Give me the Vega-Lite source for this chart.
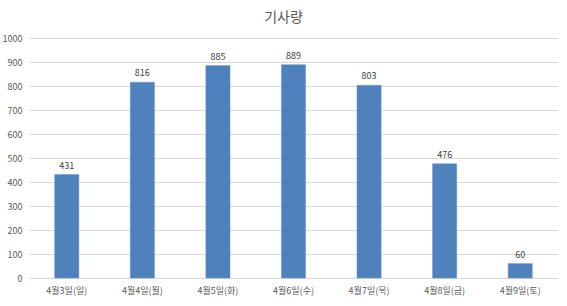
{
  "$schema": "https://vega.github.io/schema/vega-lite/v6.json",
  "width": 529,
  "height": 240,
  "autosize": {"type": "none"},
  "padding": {"left": 29, "top": 38, "right": 9, "bottom": 28},
  "background": "white",
  "title": {
    "text": "기사량",
    "font": "Noto Sans CJK KR",
    "fontSize": 14,
    "fontWeight": "normal",
    "color": "#595959",
    "anchor": "middle",
    "dx": -10,
    "offset": 9
  },
  "data": {
    "values": [
      {"date": "4월3일(일)", "count": 431},
      {"date": "4월4일(월)", "count": 816},
      {"date": "4월5일(화)", "count": 885},
      {"date": "4월6일(수)", "count": 889},
      {"date": "4월7일(목)", "count": 803},
      {"date": "4월8일(금)", "count": 476},
      {"date": "4월9일(토)", "count": 60}
    ]
  },
  "encoding": {
    "x": {
      "field": "date",
      "type": "nominal",
      "sort": null,
      "scale": {"paddingInner": 0.68, "paddingOuter": 0.34},
      "axis": {
        "title": null,
        "labelAngle": 0,
        "domain": false,
        "ticks": false,
        "labelFont": "Noto Sans CJK KR",
        "labelFontSize": 9,
        "labelColor": "#595959",
        "labelPadding": 8
      }
    },
    "y": {
      "field": "count",
      "type": "quantitative",
      "scale": {"domain": [0, 1000]},
      "axis": {
        "title": null,
        "format": "d",
        "values": [0, 100, 200, 300, 400, 500, 600, 700, 800, 900, 1000],
        "domain": false,
        "ticks": false,
        "gridColor": "#d9d9d9",
        "labelFont": "Noto Sans CJK KR",
        "labelFontSize": 9,
        "labelColor": "#595959",
        "labelPadding": 7
      }
    }
  },
  "layer": [
    {"mark": {"type": "bar", "color": "#4f81bd", "stroke": "#6a96cc", "strokeWidth": 0.5}},
    {
      "mark": {"type": "text", "dy": -9, "font": "Noto Sans CJK KR", "fontSize": 9, "color": "#404040"},
      "encoding": {"text": {"field": "count", "type": "quantitative"}}
    }
  ],
  "config": {"view": {"stroke": null}}
}
